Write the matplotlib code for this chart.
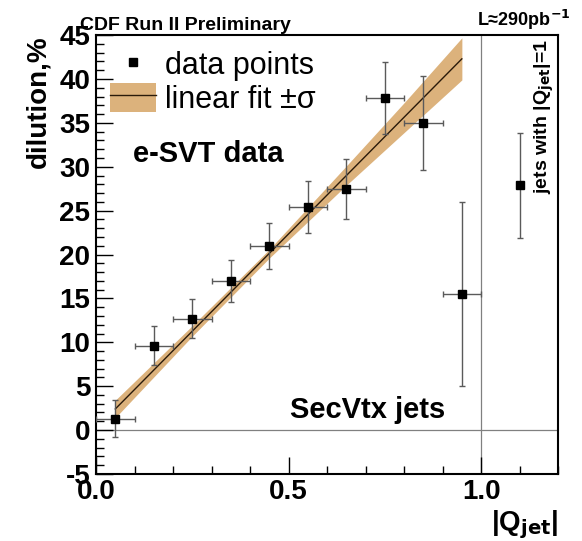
import matplotlib
matplotlib.use("Agg")
import matplotlib.pyplot as plt
from matplotlib.lines import Line2D
from matplotlib.patches import Patch
from matplotlib.ticker import MultipleLocator

plt.rcParams['font.family'] = ['Liberation Sans', 'DejaVu Sans']
plt.rcParams['axes.unicode_minus'] = False

# data points (|Q_jet| bins of 0.1) and their errors
q_bins = [0.05, 0.15, 0.25, 0.35, 0.45, 0.55, 0.65, 0.75, 0.85, 0.95]
dilution = [1.3, 9.6, 12.7, 17.0, 21.0, 25.4, 27.5, 37.8, 35.0, 15.5]
dil_err = [2.1, 2.2, 2.2, 2.4, 2.6, 3.0, 3.4, 4.1, 5.4, 10.5]
q_err = [0.05] * 10

# jets with |Q_jet| = 1, drawn in the extra bin
q_one = [1.1]
dil_one = [27.9]
dil_one_err = [6.0]

# linear fit and its +-sigma band
fit_x = [0.05, 0.95]
fit_y = [2.4, 42.3]
band_x = [0.05, 0.25, 0.45, 0.65, 0.80, 0.95]
band_lo = [1.4, 10.7, 19.6, 27.9, 33.9, 39.9]
band_hi = [3.4, 11.9, 20.6, 30.1, 37.3, 44.7]

band_color = '#dcb27c'
err_color = '#5a5a5a'

fig = plt.figure(figsize=(5.82, 5.41), dpi=100)
ax = fig.add_axes([0.165, 0.124, 0.794, 0.811])

ax.axhline(0, color='#808080', lw=0.9, zorder=1)
ax.axvline(1.0, color='#808080', lw=0.9, zorder=1)

ax.fill_between(band_x, band_lo, band_hi, color=band_color, lw=0, zorder=2)
ax.plot(fit_x, fit_y, color='#2a1a0a', lw=1.0, zorder=3)

ax.errorbar(q_bins, dilution, yerr=dil_err, xerr=q_err, fmt='s', ms=6,
            mfc='black', mec='black', ecolor=err_color, elinewidth=1.0,
            capsize=2, capthick=1.0, zorder=4)
ax.errorbar(q_one, dil_one, yerr=dil_one_err, fmt='s', ms=6,
            mfc='black', mec='black', ecolor=err_color, elinewidth=1.0,
            capsize=2, capthick=1.0, zorder=4)

ax.set_xlim(0, 1.2)
ax.set_ylim(-5, 45)
ax.xaxis.set_major_locator(MultipleLocator(0.5))
ax.xaxis.set_minor_locator(MultipleLocator(0.1))
ax.yaxis.set_major_locator(MultipleLocator(5))
ax.yaxis.set_minor_locator(MultipleLocator(1))
ax.set_xticks([0.0, 0.5, 1.0])
ax.set_xticklabels(['0.0', '0.5', '1.0'])
ax.tick_params(which='both', direction='in', top=False, right=False,
               labelsize=20, width=1.0)
ax.tick_params(which='major', length=12, pad=4)
ax.tick_params(which='minor', length=6)
for lbl in ax.get_xticklabels() + ax.get_yticklabels():
    lbl.set_fontweight('bold')
for sp in ax.spines.values():
    sp.set_linewidth(1.5)

ax.set_ylabel('dilution,%', fontsize=20, fontweight='bold', loc='top',
              labelpad=6)
ax.set_xlabel('|Q$_{\\mathbf{jet}}$|', fontsize=20, fontweight='bold',
              loc='right', labelpad=2)

handles = [Line2D([], [], marker='s', ms=6, color='black', ls='none'),
           (Patch(color=band_color, lw=0), Line2D([], [], color='#2a1a0a', lw=1.0))]
ax.legend(handles, ['data points', 'linear fit \u00b1\u03c3'], loc='upper left',
          bbox_to_anchor=(-0.01, 1.01), frameon=False, fontsize=22,
          handlelength=1.5, handleheight=1.1, handletextpad=0.3, labelspacing=0.05,
          borderaxespad=0.2)

ax.text(0.08, 0.73, 'e-SVT data', transform=ax.transAxes, fontsize=21,
        fontweight='bold', va='center', ha='left')
ax.text(0.42, 0.145, 'SecVtx jets', transform=ax.transAxes, fontsize=21,
        fontweight='bold', va='center', ha='left')
ax.text(0.97, 0.99, 'jets with |Q$_{\\mathbf{jet}}$|=1', transform=ax.transAxes,
        fontsize=14, fontweight='bold', rotation=90, va='top', ha='center')

fig.text(0.137, 0.937, 'CDF Run II Preliminary', fontsize=14, fontweight='bold',
         ha='left', va='bottom')
fig.text(0.98, 0.94, 'L\u2248290pb$^{\\mathbf{-1}}$', fontsize=13, fontweight='bold',
         ha='right', va='bottom')

fig.savefig('out.png', dpi=100)
